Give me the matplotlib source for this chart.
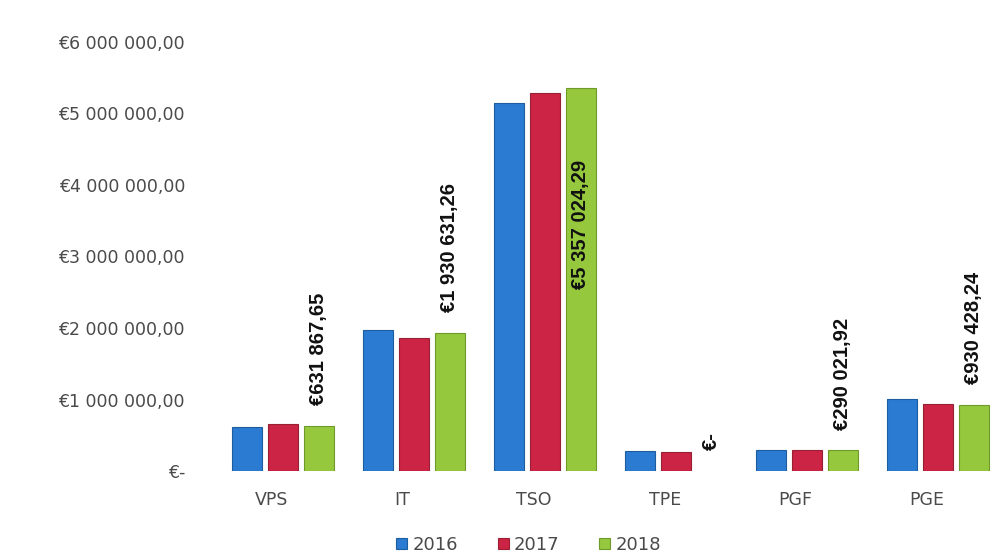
import matplotlib
matplotlib.use('Agg')
from matplotlib import pyplot as plt
from matplotlib import transforms as mtransforms
import numpy as np

# 数据
categories = ['VPS', 'IT', 'TSO', 'TPE', 'PGF', 'PGE']
years = ['2016', '2017', '2018']
v2016 = [615000, 1970000, 5140000, 280000, 290000, 1010000]
v2017 = [660000, 1855000, 5290000, 265000, 290000, 935000]
v2018 = [631867.65, 1930631.26, 5357024.29, 0, 290021.92, 930428.24]
label_2018 = ['€631 867,65', '€1 930 631,26', '€5 357 024,29', '€-', '€290 021,92', '€930 428,24']
yticks = [0, 1e6, 2e6, 3e6, 4e6, 5e6, 6e6]

colors = ['#2a7bd1', '#cc2445', '#95c83d']
edges = ['#1d5c9e', '#972035', '#6f9a2a']
txt_col = '#4a4a4a'

fig = plt.figure(figsize=(9.94, 5.57), dpi=100, facecolor='white')
ax = fig.add_axes([0.2, 0.154, 0.8, 0.771])

x = np.arange(len(categories))
step = 0.275
width = 0.23
series = [v2016, v2017, v2018]
for i, vals in enumerate(series):
    lw = [0.8 if v > 0 else 0 for v in vals]  # 零值不画边框
    ax.bar(x + (i - 1) * step, vals, width, color=colors[i], edgecolor=edges[i],
           linewidth=lw, label=years[i], zorder=2)

# 2018 数值标签
for xi, v, lab in zip(x, v2018, label_2018):
    if v > 5e6:
        ax.annotate(lab, (xi + step, v), xytext=(0, -52), textcoords='offset points',
                    rotation=90, ha='center', va='top', fontsize=14.5, fontweight='bold',
                    color='#111111', family='Liberation Sans')
    else:
        ax.annotate(lab, (xi + step, v), xytext=(0, 15), textcoords='offset points',
                    rotation=90, ha='center', va='bottom', fontsize=14.5, fontweight='bold',
                    color='#111111', family='Liberation Sans')

ax.set_xlim(-0.64, 5.43)
ax.set_ylim(0, 6e6)
ax.set_yticks(yticks)
ax.set_yticklabels(['€-'] + ['€%d 000 000,00' % (t / 1e6) for t in yticks[1:]])
ax.set_xticks(x)
ax.set_xticklabels(categories)
ax.tick_params(axis='both', length=0, colors=txt_col, labelsize=12.5)
ax.tick_params(axis='y', pad=10)
ax.tick_params(axis='x', pad=14)
for lab in ax.get_xticklabels():
    lab.set_transform(lab.get_transform() + mtransforms.ScaledTranslation(-11 / 100, 0, fig.dpi_scale_trans))
for s in ax.spines.values():
    s.set_visible(False)

leg = ax.legend(loc='upper center', bbox_to_anchor=(0.415, -0.113), ncol=3, frameon=False,
                fontsize=13, handlelength=0.6, handleheight=0.6, handletextpad=0.3,
                columnspacing=2.2, labelcolor=txt_col)

fig.savefig('out.png', dpi=100, facecolor='white')
